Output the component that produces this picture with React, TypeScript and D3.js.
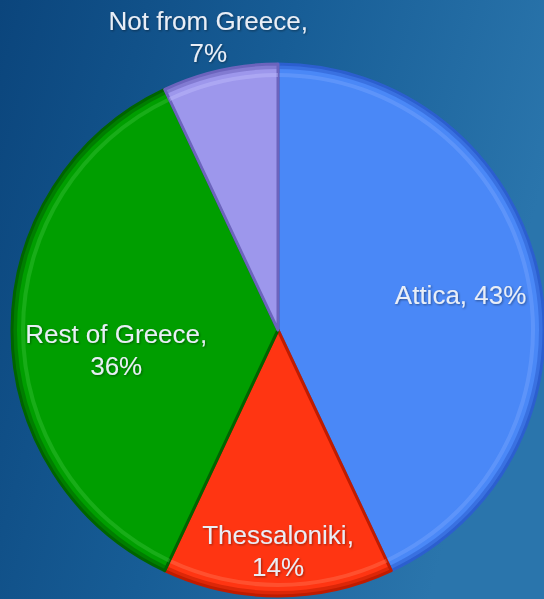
import React from "react";
import * as d3 from "d3";

const categories = ["Attica", "Thessaloniki", "Rest of Greece", "Not from Greece"];
const values = [43, 14, 36, 7];
const labelLines = [["Attica, 43%"], ["Thessaloniki,", "14%"], ["Rest of Greece,", "36%"], ["Not from Greece,", "7%"]];

const fills = ["#4a88f7", "#ff3512", "#009e00", "#9d97ec"];
const darks = ["#2c5fcf", "#c01c00", "#006400", "#6c64bd"];
const lights = ["#7aa8ff", "#ff7a5a", "#3cc43c", "#c4c0ff"];
// label placement: radius and angle (deg, clockwise from top)
const labelRadius = [186, 221, 163, 301];
const labelAngle = [79, 180, 263, 346.6];

const W = 544;
const H = 599;
const cx = 278;
const cy = 330;
const R = 266;

export default function App() {
  const pie = d3.pie<number>().sort(null).value((d) => d)(values);
  const arc = d3.arc<d3.PieArcDatum<number>>().innerRadius(0).outerRadius(R);
  const rimDark = d3.arc<d3.PieArcDatum<number>>().innerRadius(R - 5).outerRadius(R);
  const rimLight = d3.arc<d3.PieArcDatum<number>>().innerRadius(R - 13).outerRadius(R - 9);

  return (
    <svg width={W} height={H} style={{ position: "absolute", left: 0, top: 0 }}>
      <defs>
        <linearGradient id="bg" x1="0" y1="0" x2="1" y2="0.3">
          <stop offset="0" stopColor="#0b457c" />
          <stop offset="0.5" stopColor="#175d96" />
          <stop offset="1" stopColor="#2a75ac" />
        </linearGradient>
        <filter id="ts" x="-10%" y="-10%" width="120%" height="130%">
          <feDropShadow dx="1" dy="1" stdDeviation="0.8" floodColor="#000" floodOpacity="0.4" />
        </filter>
      </defs>
      <rect width={W} height={H} fill="url(#bg)" />
      <g transform={`translate(${cx},${cy})`}>
        {pie.map((p, i) => (
          <g key={categories[i]}>
            <path d={arc(p) || ""} fill={fills[i]} stroke={darks[i]} strokeWidth={3} strokeLinejoin="round" />
            <path d={rimDark(p) || ""} fill={darks[i]} opacity={0.55} />
            <path d={rimLight(p) || ""} fill={lights[i]} opacity={0.4} />
          </g>
        ))}
      </g>
      <g fontFamily="'Liberation Sans', Arial, sans-serif" fontSize={26} fill="#e9eef6" textAnchor="middle" filter="url(#ts)">
        {pie.map((p, i) => {
          const a = (labelAngle[i] * Math.PI) / 180;
          const x = cx + labelRadius[i] * Math.sin(a);
          const y = cy - labelRadius[i] * Math.cos(a);
          const lines = labelLines[i];
          const lh = 32;
          return (
            <text key={categories[i]} x={x} y={y}>
              {lines.map((l, j) => (
                <tspan key={j} x={x} y={y + (j - (lines.length - 1) / 2) * lh} dy="0.35em">
                  {l}
                </tspan>
              ))}
            </text>
          );
        })}
      </g>
    </svg>
  );
}
